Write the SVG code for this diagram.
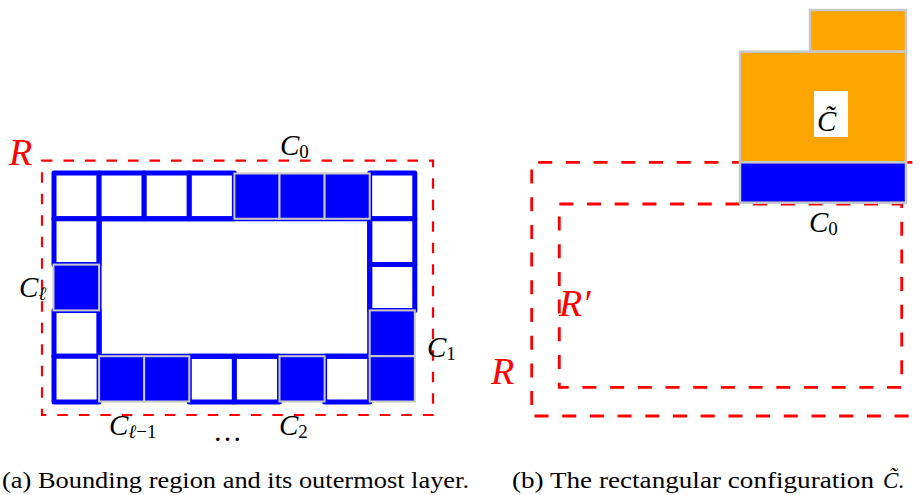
<svg xmlns="http://www.w3.org/2000/svg" width="921" height="495" viewBox="0 0 921 495">
<style>
.wc{fill:#fff;stroke:#0000ff;stroke-width:5;stroke-linejoin:round}
.bc{fill:#0000ff;stroke:#c8c8c8;stroke-width:2}
.or{fill:#ffa500;stroke:#c8c8c8;stroke-width:2.5}
.dl{fill:none;stroke:#ff0000;stroke-width:2.2;stroke-dasharray:10.5 11}
.dr{fill:none;stroke:#ff0000;stroke-width:2.8;stroke-dasharray:14 13.7}
.m{font-family:"Liberation Serif","DejaVu Serif",serif;font-style:italic;font-size:29px;fill:#000}
.s{font-family:"Liberation Serif","DejaVu Serif",serif;font-style:normal;font-size:19px}
.si{font-family:"Liberation Serif","DejaVu Serif",serif;font-style:italic;font-size:19px}
.rl{font-family:"Liberation Serif","DejaVu Serif",serif;font-style:italic;font-size:38px;fill:#ff0000}
.cap{font-family:"Liberation Serif","DejaVu Serif",serif;font-size:23px;fill:#000}
</style>
<g id="panel-a">
<g id="region-R">
<rect class="dl" x="42" y="160.7" width="391" height="254.3"/>
<text class="rl" x="9" y="165">R</text>
</g>
<g id="layer-cells">
<rect class="wc" x="54" y="173" width="45.1" height="45.8"/>
<rect class="wc" x="99.1" y="173" width="45.1" height="45.8"/>
<rect class="wc" x="144.2" y="173" width="45.1" height="45.8"/>
<rect class="wc" x="189.3" y="173" width="45.1" height="45.8"/>
<rect class="wc" x="369.7" y="173" width="45.1" height="45.8"/>
<rect class="wc" x="54" y="218.8" width="45.1" height="45.8"/>
<rect class="wc" x="369.7" y="218.8" width="45.1" height="45.8"/>
<rect class="wc" x="369.7" y="264.6" width="45.1" height="45.8"/>
<rect class="wc" x="54" y="310.4" width="45.1" height="45.8"/>
<rect class="wc" x="54" y="356.2" width="45.1" height="45.8"/>
<rect class="wc" x="189.3" y="356.2" width="45.1" height="45.8"/>
<rect class="wc" x="234.4" y="356.2" width="45.1" height="45.8"/>
<rect class="wc" x="324.6" y="356.2" width="45.1" height="45.8"/>
<path d="M99.1 218.8 H369.7 V356.2 H99.1 Z" fill="none" stroke="#0000ff" stroke-width="5"/>
</g>
<g id="C0-a">
<rect class="bc" x="234.4" y="173.5" width="45.1" height="45.3"/>
<rect class="bc" x="279.5" y="173.5" width="45.1" height="45.3"/>
<rect class="bc" x="324.6" y="173.5" width="45.1" height="45.3"/>
<text class="m" x="280" y="155">C<tspan class="s" dy="3">0</tspan></text>
</g>
<g id="C1">
<rect class="bc" x="369.7" y="310.4" width="45.1" height="45.8"/>
<rect class="bc" x="369.7" y="356.2" width="45.1" height="45.3"/>
<text class="m" x="427" y="357">C<tspan class="s" dy="3">1</tspan></text>
</g>
<g id="C2">
<rect class="bc" x="279.5" y="356.2" width="45.1" height="45.3"/>
<text class="m" x="279" y="435">C<tspan class="s" dy="3">2</tspan></text>
</g>
<g id="C-l-1">
<rect class="bc" x="99.1" y="356.2" width="45.1" height="45.3"/>
<rect class="bc" x="144.2" y="356.2" width="45.1" height="45.3"/>
<text class="m" x="109" y="435">C<tspan class="si" dy="3">ℓ</tspan><tspan class="s">−1</tspan></text>
</g>
<g id="C-l">
<rect class="bc" x="53.5" y="264.6" width="45.6" height="45.8"/>
<text class="m" x="19" y="297">C<tspan class="si" dy="3">ℓ</tspan></text>
</g>
<text id="dots" class="m" x="213" y="441" style="font-style:normal">…</text>
</g>
<g id="panel-b">
<g id="regions-b">
<path class="dr" d="M940 162.3 H531.7 V416 H940"/>
<rect class="dr" x="559.3" y="204" width="342.4" height="183.3"/>
<text class="rl" x="491" y="384">R</text>
<text class="rl" x="559" y="316">R′</text>
</g>
<g id="config-Ctilde">
<rect class="or" x="810" y="10" width="96" height="41.7"/>
<rect class="or" x="740" y="51.7" width="166" height="110.6"/>
<rect x="814" y="91" width="34" height="46" fill="#fff"/>
<text class="m" x="817" y="131">C̃</text>
</g>
<g id="C0-b">
<rect class="bc" x="740" y="162.3" width="166" height="40.4" style="stroke-width:2.5"/>
<text class="m" x="809" y="232">C<tspan class="s" dy="3">0</tspan></text>
</g>
</g>
<g id="captions">
<text class="cap" x="2" y="488" textLength="467" lengthAdjust="spacingAndGlyphs">(a) Bounding region and its outermost layer.</text>
<text class="cap" x="512" y="488" textLength="362" lengthAdjust="spacingAndGlyphs">(b) The rectangular configuration</text>
<text class="cap" x="883" y="488"><tspan style="font-style:italic">C̃</tspan>.</text>
</g>
</svg>
